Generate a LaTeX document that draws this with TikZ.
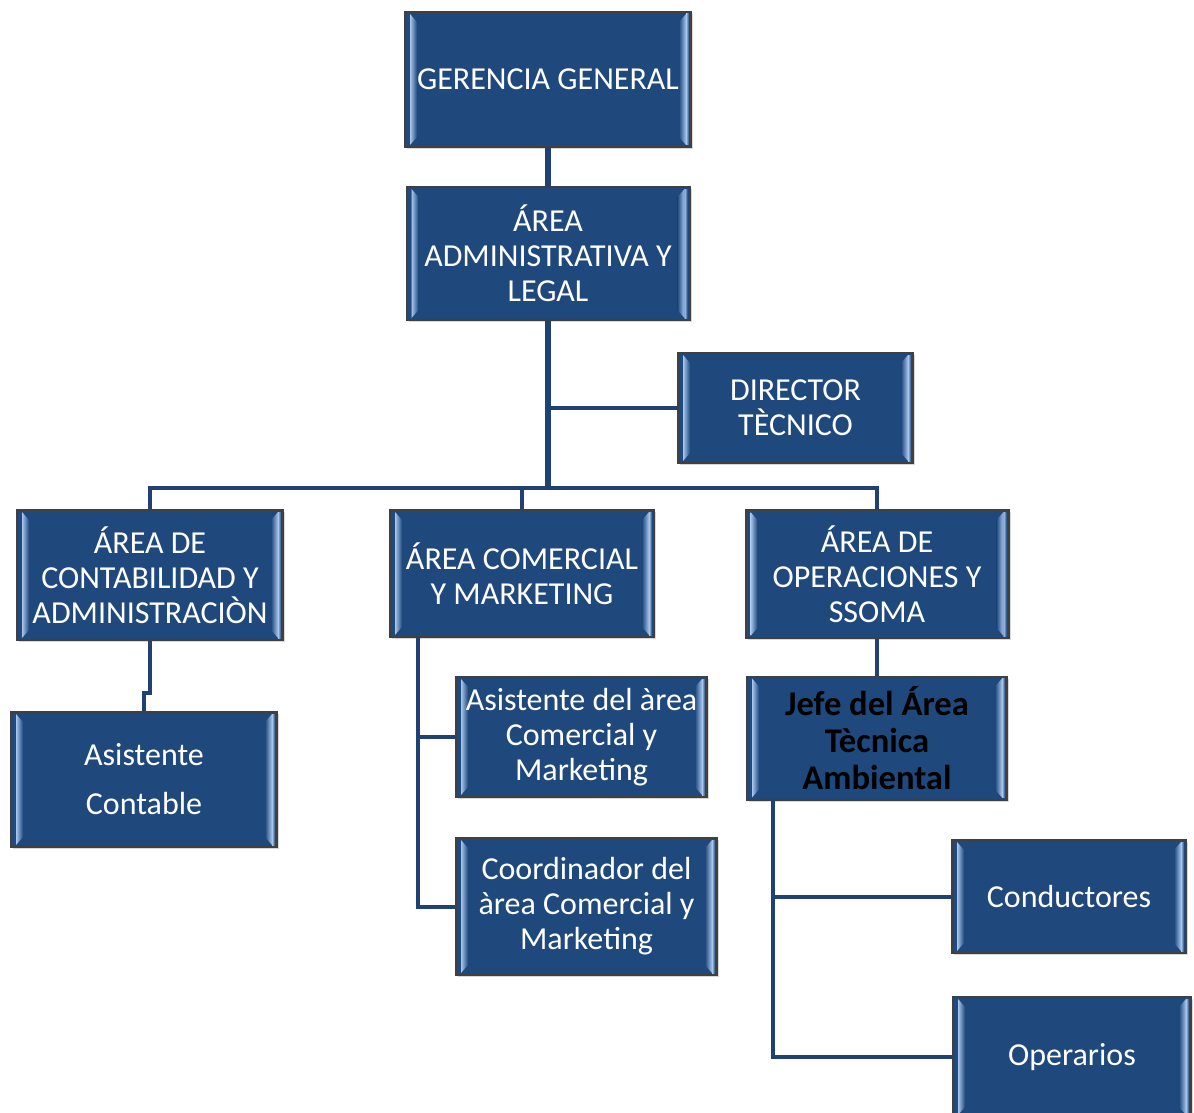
\documentclass[tikz,border=0pt]{standalone}
\usepackage{fontspec}
\setmainfont{Carlito}
\usepackage{tikz}
\usetikzlibrary{shadows}
\usepackage{color}
\definecolor{boxblue}{HTML}{1F497D}
\definecolor{bevelblue}{HTML}{A9C6EC}
\definecolor{linkblue}{HTML}{1F4274}

\tikzset{
    orgbox/.style={draw=black!75, line width=1pt, fill=boxblue, text=white, align=center,
        inner sep=0pt, font=\fontsize{16}{17.5}\selectfont,
        drop shadow={shadow xshift=1.2pt, shadow yshift=-1.2pt, opacity=.3},
        path picture={
            \shade[left color=boxblue, right color=bevelblue]
                ([xshift=1pt,yshift=-1pt]path picture bounding box.north west) --
                ([xshift=2.5pt,yshift=-1pt]path picture bounding box.north west) --
                ([xshift=2.5pt,yshift=1pt]path picture bounding box.south west) --
                ([xshift=1pt,yshift=1pt]path picture bounding box.south west) -- cycle;
            \shade[left color=bevelblue, right color=boxblue]
                ([xshift=2.5pt,yshift=-1pt]path picture bounding box.north west) --
                ([xshift=6pt,yshift=-5pt]path picture bounding box.north west) --
                ([xshift=6pt,yshift=5pt]path picture bounding box.south west) --
                ([xshift=2.5pt,yshift=1pt]path picture bounding box.south west) -- cycle;
            \shade[left color=bevelblue, right color=boxblue]
                ([xshift=-1pt,yshift=-1pt]path picture bounding box.north east) --
                ([xshift=-2.5pt,yshift=-1pt]path picture bounding box.north east) --
                ([xshift=-2.5pt,yshift=1pt]path picture bounding box.south east) --
                ([xshift=-1pt,yshift=1pt]path picture bounding box.south east) -- cycle;
            \shade[left color=boxblue, right color=bevelblue]
                ([xshift=-2.5pt,yshift=-1pt]path picture bounding box.north east) --
                ([xshift=-6pt,yshift=-5pt]path picture bounding box.north east) --
                ([xshift=-6pt,yshift=5pt]path picture bounding box.south east) --
                ([xshift=-2.5pt,yshift=1pt]path picture bounding box.south east) -- cycle;
        }},
    boxsize/.style 2 args={minimum width=#1, minimum height=#2},
    link/.style={draw=linkblue, line width=2pt},
    trunk/.style={draw=linkblue, line width=2.8pt}
}

\begin{document}
\begin{tikzpicture}[x=0.5pt, y=-0.5pt]
        \fill[white] (0,0) rectangle (1194,1113);
        \useasboundingbox (0,0) rectangle (1194,1113);

        \node[orgbox, boxsize={143pt}{67.5pt}] (gg) at (548,79.5) {GERENCIA GENERAL};
        \node[orgbox, boxsize={141.5pt}{66.5pt}] (adm) at (548,253.5) {ÁREA\\ADMINISTRATIVA Y\\LEGAL};
        \node[orgbox, boxsize={117.5pt}{55pt}] (dir) at (795.5,408) {DIRECTOR\\TÈCNICO};
        \node[orgbox, boxsize={133pt}{65pt}] (cont) at (150,575) {ÁREA DE\\CONTABILIDAD Y\\ADMINISTRACIÒN};
        \node[orgbox, boxsize={132pt}{63.5pt}] (com) at (522,573.5) {ÁREA COMERCIAL\\Y MARKETING};
        \node[orgbox, boxsize={131.5pt}{64pt}] (ope) at (877,574) {ÁREA DE\\OPERACIONES Y\\SSOMA};
        \node[orgbox, boxsize={133pt}{67.5pt}] (asc) at (144,779.5) {Asistente\\[7pt]Contable};
        \node[orgbox, boxsize={125.5pt}{60pt}] (asi) at (581.5,737) {Asistente del àrea\\Comercial y\\Marketing};
        \node[orgbox, boxsize={130.5pt}{68.5pt}] (coo) at (586.5,906.5) {Coordinador del\\àrea Comercial y\\Marketing};
        \node[orgbox, boxsize={130pt}{61.5pt}, text=black,
            font=\fontsize{17.3}{18.5}\selectfont\bfseries] (jef) at (877,738) {Jefe del Área\\Tècnica\\Ambiental};
        \node[orgbox, boxsize={117pt}{56.5pt}] (cdt) at (1069,896.5) {Conductores};
        \node[orgbox, boxsize={119pt}{60pt}] (opr) at (1072,1057) {Operarios};

        \coordinate (bus) at (548,488);
        \coordinate (comrail) at (418,637);
        \coordinate (jefrail) at (773,800);

        \draw[trunk] (gg.south) -- (adm.north);
        \draw[trunk] (adm.south) -- (bus);
        \draw[link] (dir.west) -- (dir.west -| bus);
        \draw[link] (cont.north) |- (bus) -| (ope.north);
        \draw[link] (com.north) -- (com.north |- bus);
        \draw[link] (cont.south) -- ++(0,52) -| (asc.north);
        \draw[link] (ope.south) -- (jef.north);
        \draw[link] (comrail) |- (coo.west);
        \draw[link] (jefrail) |- (opr.west);
        \foreach \b in {asi}{
            \draw[link] (\b.west) -- (\b.west -| comrail);
        }
        \foreach \b in {cdt}{
            \draw[link] (\b.west) -- (\b.west -| jefrail);
        }
    \end{tikzpicture}
\end{document}
